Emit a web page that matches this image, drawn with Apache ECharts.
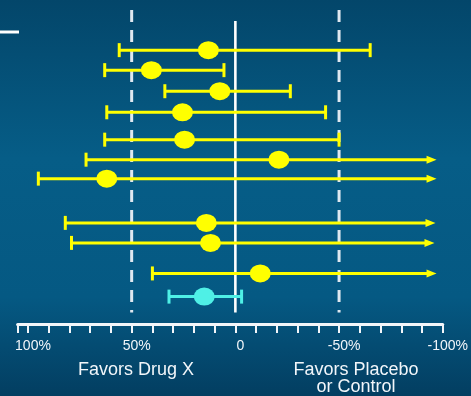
<!DOCTYPE html>
<html>
<head>
<meta charset="utf-8">
<script src="https://cdn.jsdelivr.net/npm/echarts@6/dist/echarts.min.js"></script>
<style>
  html, body { margin: 0; padding: 0; background: #05557e; }
  #chart { width: 471px; height: 396px; }
</style>
</head>
<body>
<div id="chart"></div>
<script>
// Risk reduction (%) for each trial: interval ends and point estimate.
// Positive values favour Drug X (left), negative favour placebo/control (right).
const studyRows   = [1, 1.95, 2.95, 3.95, 5.25, 6.2, 7.1, 9.2, 10.15, 11.6, 12.7];
const ciLeft      = [56, 63, 34, 62, 63, 72, 95, 82, 79, 40, 32];
const estimate    = [13, 40.5, 7.5, 25.5, 24.5, -21, 62, 14, 12, -12, 15];
const ciRight     = [-65, 5.5, -26.5, -43.5, -50, -97, -97, -96.5, -96, -97, -3];
const runsOffAxis = [false, false, false, false, false, true, true, true, true, true, false];
const isPooled    = [false, false, false, false, false, false, false, false, false, false, true];

// Vertical guides: no effect (solid) and +/-50% (dashed)
const guideValues = [50, 0, -50];
const tickLabels  = [100, 50, 0, -50, -100];

const YELLOW = '#ffff00';
const CYAN = '#4ff0e6';
const WHITE = '#f2f6fa';
const FONT = '"Liberation Sans", Arial, Helvetica, sans-serif';

const intervalData = studyRows.map((row, i) => [
  ciLeft[i], estimate[i], ciRight[i], row, runsOffAxis[i] ? 1 : 0, isPooled[i] ? 1 : 0
]);
const pointData = studyRows.map((row, i) => ({
  value: [estimate[i], row],
  itemStyle: { color: isPooled[i] ? CYAN : YELLOW, opacity: 1 }
}));
const guideData = guideValues.map(v => [v, v === 0 ? 0 : 1]);

const chart = echarts.init(document.getElementById('chart'), null, { renderer: 'canvas' });

chart.setOption({
  animation: false,
  backgroundColor: {
    type: 'linear', x: 0, y: 0, x2: 0, y2: 1,
    colorStops: [
      { offset: 0, color: '#03466a' },
      { offset: 0.4, color: '#065d87' },
      { offset: 0.75, color: '#055983' },
      { offset: 1, color: '#033e61' }
    ]
  },
  grid: { left: 17.6, width: 426.4, top: 8, bottom: 72 },
  xAxis: {
    type: 'value',
    inverse: true,
    min: -100,
    max: 105,
    interval: 10,
    splitLine: { show: false },
    axisLine: { show: true, onZero: false, lineStyle: { color: WHITE, width: 3 } },
    axisTick: { show: true, length: 9, lineStyle: { color: WHITE, width: 2 } },
    axisLabel: {
      customValues: tickLabels,
      margin: 15,
      fontSize: 14,
      fontFamily: FONT,
      color: WHITE,
      padding: [0, 0, 0, 10],
      formatter: v => (v === 0 ? '0' : v + '%')
    }
  },
  yAxis: {
    type: 'value',
    inverse: true,
    min: -1,
    max: 14,
    show: false
  },
  graphic: [
    {
      type: 'line',
      shape: { x1: 0, y1: 32, x2: 19, y2: 32 },
      style: { stroke: '#ffffff', lineWidth: 3 }
    },
    {
      type: 'text',
      x: 136, y: 361,
      style: {
        text: 'Favors Drug X',
        font: '18px ' + FONT,
        fill: WHITE,
        textAlign: 'center',
        textVerticalAlign: 'top'
      }
    },
    {
      type: 'text',
      x: 356, y: 361,
      style: {
        text: 'Favors Placebo\nor Control',
        font: '18px ' + FONT,
        lineHeight: 17.5,
        fill: WHITE,
        textAlign: 'center',
        textVerticalAlign: 'top'
      }
    }
  ],
  series: [
    {
      // vertical guide lines
      type: 'custom',
      z: 1,
      silent: true,
      data: guideData,
      encode: { x: 0 },
      renderItem(params, api) {
        const v = api.value(0);
        const dashed = api.value(1) === 1;
        const top = api.coord([v, dashed ? -0.9 : -0.38]);
        const bottom = api.coord([v, 13.45]);
        return {
          type: 'line',
          shape: { x1: top[0], y1: top[1], x2: bottom[0], y2: bottom[1] },
          style: {
            stroke: dashed ? '#dfe8f0' : '#ffffff',
            lineWidth: dashed ? 3 : 2.6,
            lineDash: dashed ? [12, 8] : null
          }
        };
      }
    },
    {
      // interval whiskers, caps and arrows
      type: 'custom',
      z: 2,
      silent: true,
      data: intervalData,
      encode: { x: [0, 1, 2], y: 3 },
      renderItem(params, api) {
        const row = api.value(3);
        const arrow = api.value(4) === 1;
        const color = api.value(5) === 1 ? CYAN : YELLOW;
        const pL = api.coord([api.value(0), row]);
        const pR = api.coord([api.value(2), row]);
        const children = [
          {
            type: 'line',
            shape: { x1: pL[0], y1: pL[1], x2: arrow ? pR[0] - 6 : pR[0], y2: pR[1] },
            style: { stroke: color, lineWidth: 3 }
          },
          {
            type: 'line',
            shape: { x1: pL[0], y1: pL[1] - 7, x2: pL[0], y2: pL[1] + 7 },
            style: { stroke: color, lineWidth: 3 }
          }
        ];
        if (arrow) {
          children.push({
            type: 'polygon',
            shape: { points: [[pR[0], pR[1]], [pR[0] - 10, pR[1] - 4], [pR[0] - 10, pR[1] + 4]] },
            style: { fill: color }
          });
        } else {
          children.push({
            type: 'line',
            shape: { x1: pR[0], y1: pR[1] - 7, x2: pR[0], y2: pR[1] + 7 },
            style: { stroke: color, lineWidth: 3 }
          });
        }
        return { type: 'group', children };
      }
    },
    {
      // point estimates
      type: 'scatter',
      z: 3,
      silent: true,
      symbol: 'circle',
      symbolSize: [21, 18],
      itemStyle: { opacity: 1 },
      data: pointData
    }
  ]
});
</script>
</body>
</html>
